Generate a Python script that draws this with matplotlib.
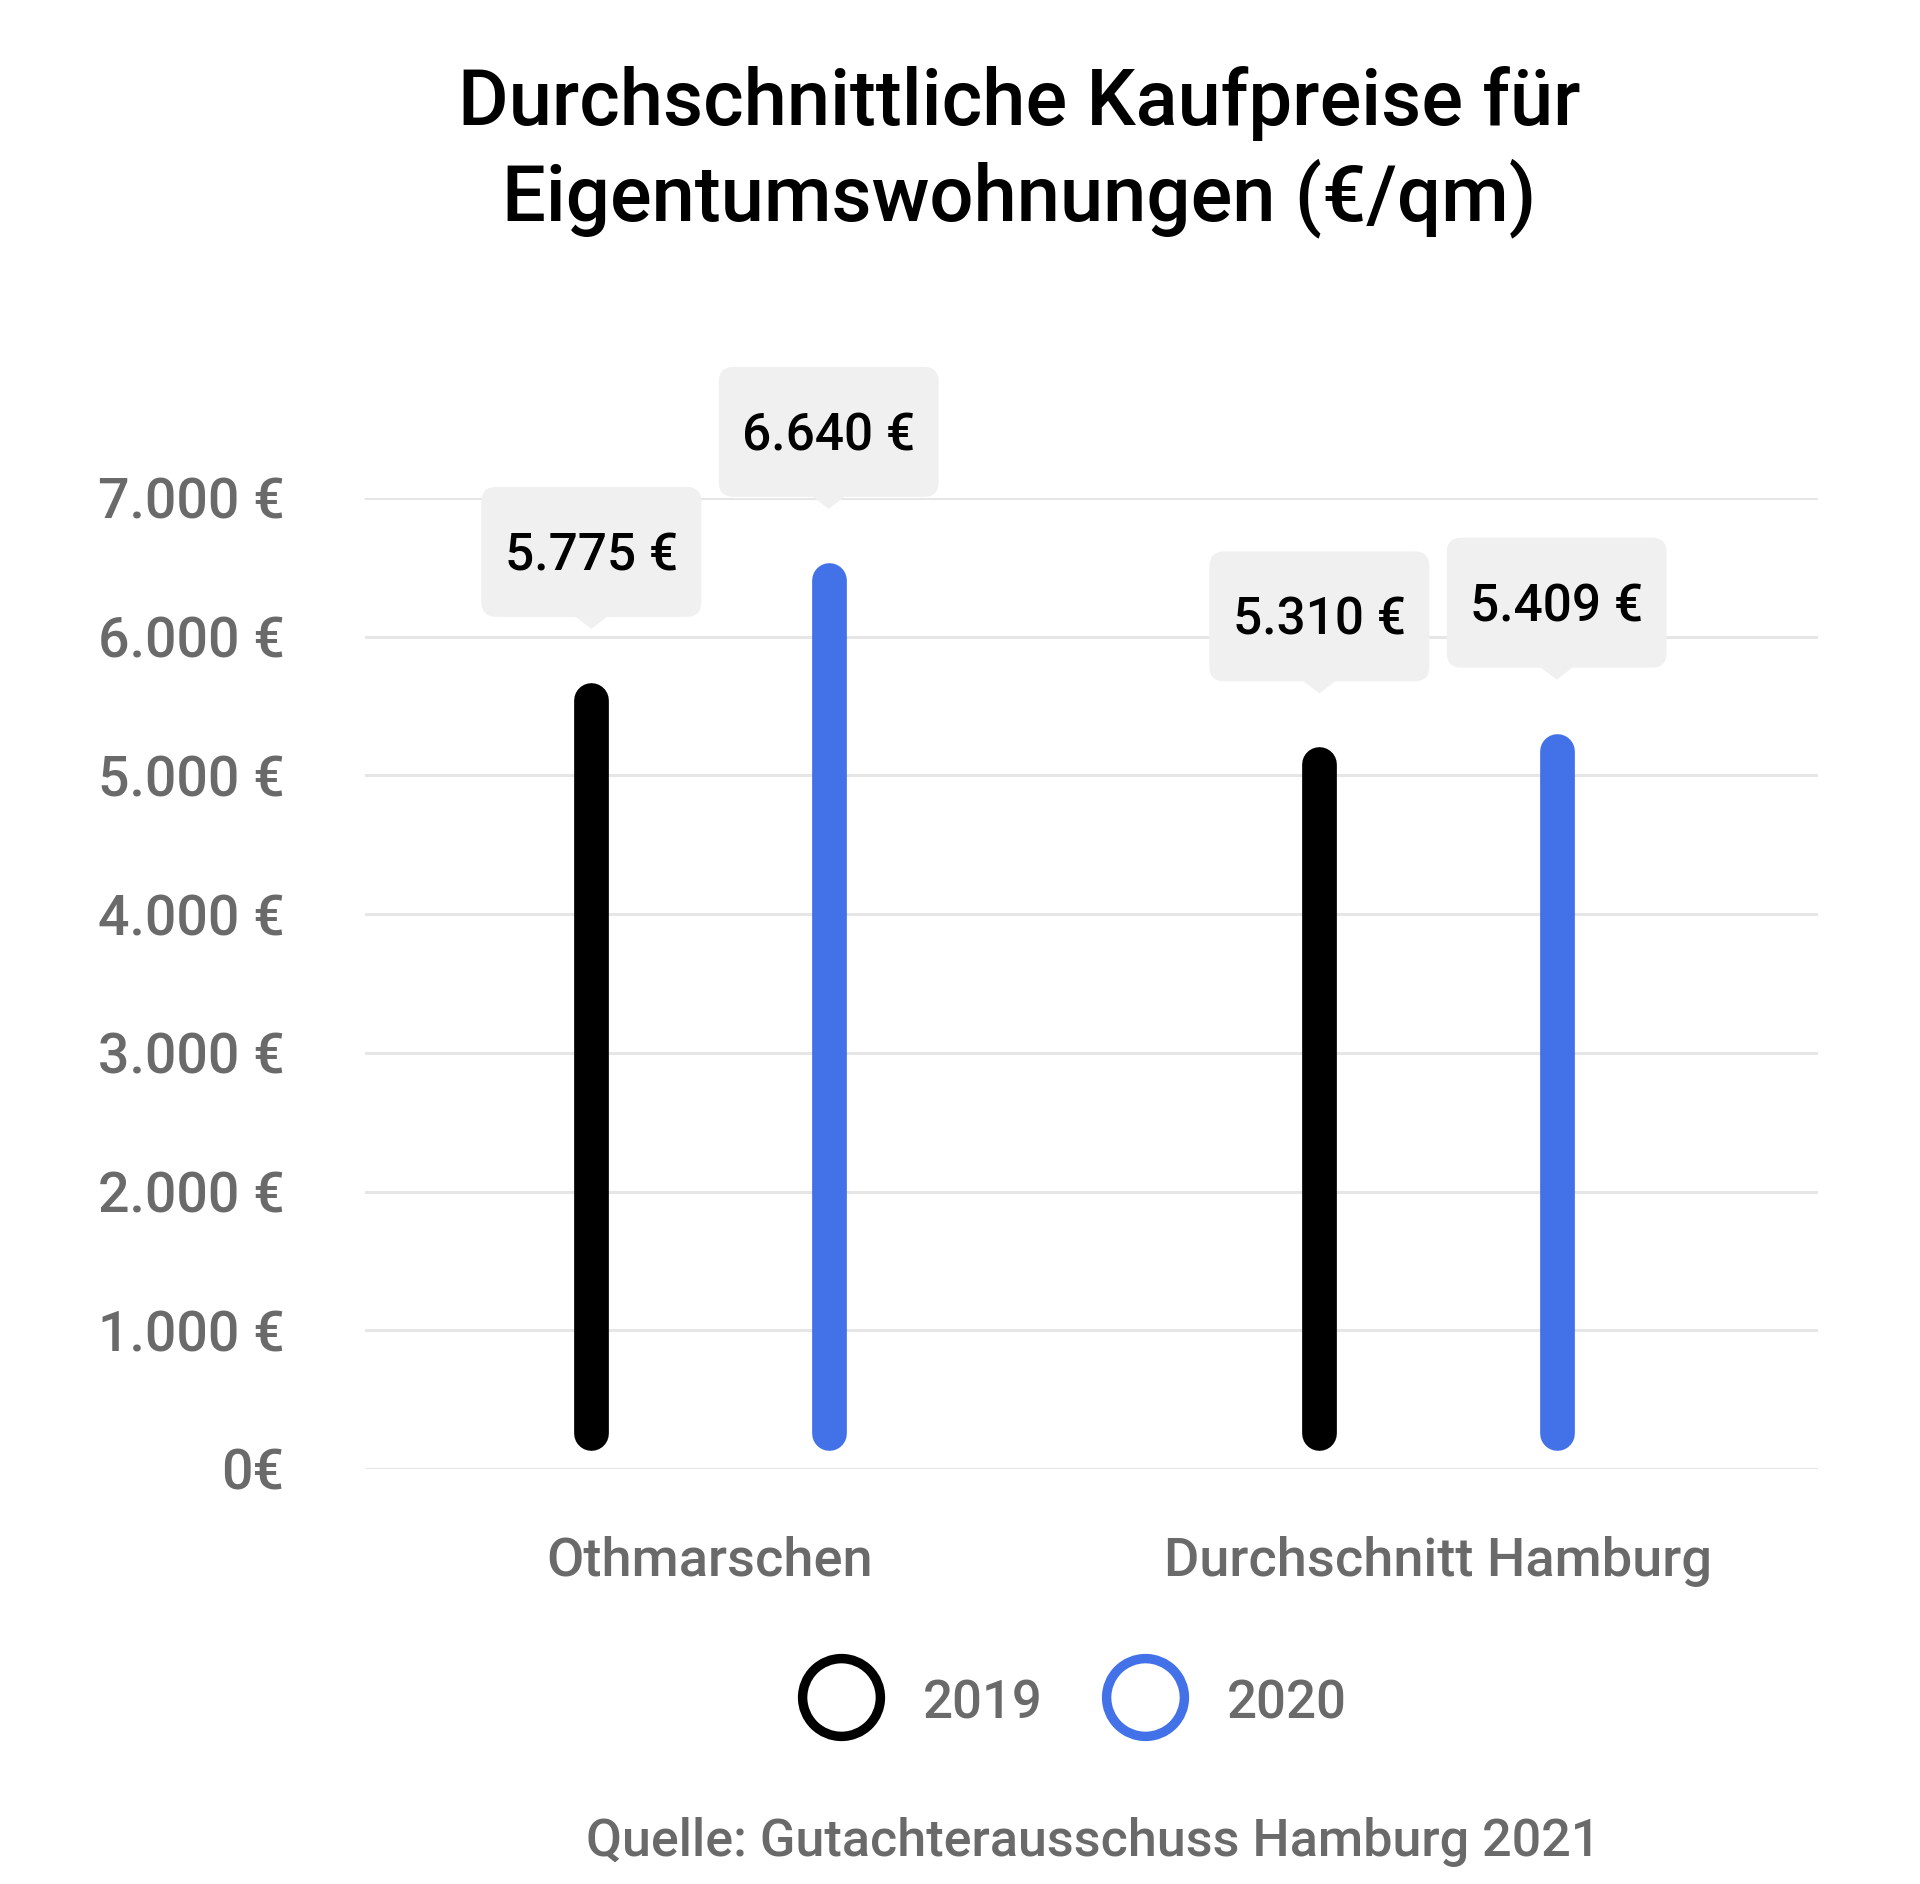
import matplotlib.pyplot as plt
import matplotlib.transforms as mtransforms
from matplotlib.patches import FancyBboxPatch, Polygon
from matplotlib.lines import Line2D

plt.rcParams['font.family'] = ['Roboto', 'DejaVu Sans']

# data
groups = ["Othmarschen", "Durchschnitt Hamburg"]
years = ["2019", "2020"]
prices_2019 = [5775, 5310]
prices_2020 = [6640, 5409]
y_ticks = [0, 1000, 2000, 3000, 4000, 5000, 6000, 7000]
y_labels = ["0€", "1.000 €", "2.000 €", "3.000 €", "4.000 €", "5.000 €", "6.000 €", "7.000 €"]

colors = ["#000000", "#4271E8"]
grey = "#6a6a6a"
box_grey = "#f0f0f0"

fig = plt.figure(figsize=(19.2, 18.84), dpi=100)
ax = fig.add_axes([0.1901, 0.2203, 0.7568, 0.5154])
ax.set_xlim(-0.474, 1.522)
ax.set_ylim(0, 7000)

for s in ax.spines.values():
    s.set_visible(False)
ax.set_xticks([])
ax.set_yticks(y_ticks)
ax.set_yticklabels(y_labels)
ax.tick_params(axis='y', length=0, pad=58, labelsize=40, labelcolor=grey)
for lab in ax.get_yticklabels():
    lab.set_fontweight('medium')
for t in y_ticks:
    ax.axhline(t, color="#e6e6e6", lw=2.2, zorder=0)

offset = 0.163
bar_start = 260    # rounded bars float a little above the zero line
bar_end_inset = 230


def value_box(x, v):
    # fixed-size callout (inches) anchored at the data point
    trans = fig.dpi_scale_trans + mtransforms.ScaledTranslation(x, v, ax.transData)
    w, h, cy = 2.2, 1.30, 1.16
    box = FancyBboxPatch((-w / 2 + 0.15, cy - h / 2 + 0.15), w - 0.3, h - 0.3,
                         boxstyle="round,pad=0.15", fc=box_grey, ec="none",
                         transform=trans, clip_on=False, zorder=3)
    ax.add_patch(box)
    tri = Polygon([(-0.17, cy - h / 2 + 0.01), (0.17, cy - h / 2 + 0.01), (0, cy - h / 2 - 0.12)],
                  closed=True, fc=box_grey, ec="none", transform=trans,
                  clip_on=False, zorder=3)
    ax.add_patch(tri)
    label = f"{v:,}".replace(",", ".") + " €"
    ax.text(0, cy - 0.185, label, transform=trans, ha='center', va='baseline',
            fontsize=37, fontweight='medium', color="black", zorder=4)


for i, g in enumerate(groups):
    for j, vals in enumerate([prices_2019, prices_2020]):
        x = i + (j * 2 - 1) * offset
        v = vals[i]
        ax.plot([x, x], [bar_start, v - bar_end_inset], color=colors[j], lw=25,
                solid_capstyle='round', zorder=2)
        value_box(x, v)
    ax.text(i, 0.1635, g, transform=mtransforms.blended_transform_factory(ax.transData, fig.transFigure),
            ha='center', va='baseline', fontsize=39, fontweight='medium', color=grey)

# title
fig.text(0.531, 0.9337, "Durchschnittliche Kaufpreise für", ha='center', va='baseline',
         fontsize=56, fontweight='medium', color='black')
fig.text(0.531, 0.8832, "Eigentumswohnungen (€/qm)", ha='center', va='baseline',
         fontsize=56, fontweight='medium', color='black')

# legend
leg_x = [841 / 1920, 1145 / 1920]
for j, yr in enumerate(years):
    fig.add_artist(Line2D([leg_x[j]], [0.0993], marker='o', ms=56, mfc='white',
                          mec=colors[j], mew=6.8, transform=fig.transFigure))
    fig.text(leg_x[j] + 82 / 1920, 0.0881, yr, ha='left', va='baseline',
             fontsize=38, fontweight='medium', color=grey)

fig.text(1093 / 1920, 0.0149, "Quelle: Gutachterausschuss Hamburg 2021", ha='center',
         va='baseline', fontsize=37.5, fontweight='medium', color=grey)

fig.savefig("out.png", dpi=100, facecolor='white')
